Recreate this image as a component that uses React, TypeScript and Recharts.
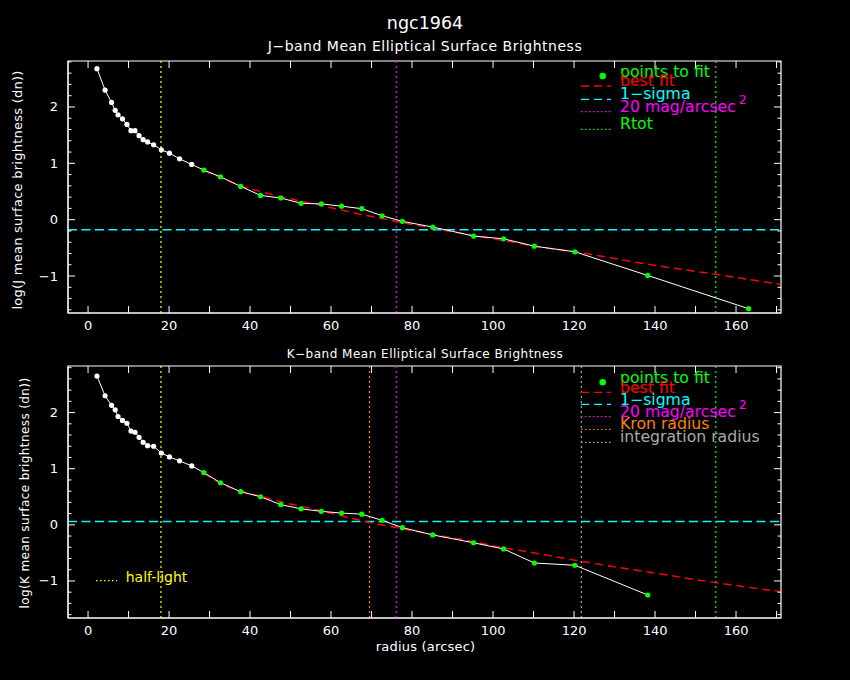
import { ComposedChart, Line, XAxis, YAxis, ReferenceLine, ReferenceArea } from "recharts";

// radial bins (arcsec)
const radius = [
  2.2, 4.2, 5.8, 6.7, 7.4, 8.5, 9.6, 10.6, 11.6, 12.6, 13.6, 14.7, 16.2, 18.1, 20.1, 22.6, 25.6,
  28.6, 32.7, 37.7, 42.6, 47.6, 52.6, 57.6, 62.6, 67.6, 72.6, 77.6, 85.1, 95.2, 102.6, 110.2, 120.2,
  138.2, 163.1,
];
const jBrightness = [
  2.68, 2.3, 2.08, 1.94, 1.86, 1.79, 1.69, 1.58, 1.58, 1.49, 1.42, 1.38, 1.33, 1.24, 1.18, 1.08, 0.98,
  0.88, 0.76, 0.59, 0.43, 0.385, 0.29, 0.28, 0.24, 0.195, 0.07, -0.03, -0.13, -0.29, -0.34, -0.47, -0.57,
  -0.99, -1.58,
];
const kBrightness = [
  2.65, 2.3, 2.13, 2.05, 1.93, 1.86, 1.81, 1.67, 1.65, 1.56, 1.47, 1.41, 1.4, 1.28, 1.21, 1.14, 1.05,
  0.93, 0.75, 0.59, 0.5, 0.36, 0.285, 0.24, 0.21, 0.19, 0.08, -0.05, -0.18, -0.32, -0.43, -0.68, -0.72,
  -1.25,
];

// best fit curves
const fitRadius = [
  28.6, 32.7, 37.7, 42.6, 47.6, 52.6, 57.6, 62.6, 67.6, 72.6, 77.6, 85.1, 95.2, 102.6, 110.2, 120.2,
  138.2, 155, 171,
];
const jFit = [
  0.87, 0.75, 0.6, 0.5, 0.41, 0.33, 0.25, 0.17, 0.09, 0.02, -0.05, -0.15, -0.28, -0.37, -0.47, -0.57,
  -0.79, -0.97, -1.15,
];
const kFit = [
  0.92, 0.74, 0.6, 0.51, 0.41, 0.33, 0.25, 0.16, 0.07, 0.0, -0.07, -0.17, -0.3, -0.41, -0.5, -0.63,
  -0.84, -1.03, -1.19,
];

const FIT_MIN_R = 28;

// marker lines
const HALF_LIGHT = 18.0;
const MAG20 = 76.1;
const RTOT = 155.0;
const KRON = 69.5;
const INTEGRATION = 121.8;
const J_SIGMA = -0.18;
const K_SIGMA = 0.06;

const xTicks = [0, 10, 20, 30, 40, 50, 60, 70, 80, 90, 100, 110, 120, 130, 140, 150, 160, 170];
const yTicks = [
  -1.6, -1.4, -1.2, -1, -0.8, -0.6, -0.4, -0.2, 0, 0.2, 0.4, 0.6, 0.8, 1, 1.2, 1.4, 1.6, 1.8, 2, 2.2,
  2.4, 2.6, 2.8,
];
const X_DOMAIN: [number, number] = [-4.95, 171.1];
const J_DOMAIN: [number, number] = [-1.656, 2.816];
const K_DOMAIN: [number, number] = [-1.66, 2.83];

const WHITE = "#ffffff";
const GREEN = "#00ff00";
const RED = "#ff0000";
const CYAN = "#00ffff";
const MAGENTA = "#ff00ff";
const YELLOW = "#ffff00";
const ORANGE = "#ff8000";
const GRAY = "#aaaaaa";
const FONT = "'DejaVu Sans', sans-serif";

const W = 850;
const H = 340;
const TOP = 61;
const LEFT = 68;
const RIGHT = 781;

const rows = (xs: number[], ys: number[]) => ys.map((v, i) => ({ r: xs[i], v }));

function XTick(props: any) {
  const { x, y, payload } = props;
  const v = payload.value;
  return (
    <g>
      <line x1={x} x2={x} y1={y} y2={y - 7} stroke={WHITE} />
      <line x1={x} x2={x} y1={TOP} y2={TOP + 7} stroke={WHITE} />
      {v % 20 === 0 && (
        <text x={x} y={y + 17} fill={WHITE} fontSize={13} fontFamily={FONT} textAnchor="middle">
          {v}
        </text>
      )}
    </g>
  );
}

function YTick(props: any) {
  const { x, y, payload } = props;
  const v = payload.value;
  const major = Math.abs(v - Math.round(v)) < 1e-6;
  const len = major ? 7 : 3.5;
  return (
    <g>
      <line x1={x} x2={x + len} y1={y} y2={y} stroke={WHITE} />
      <line x1={RIGHT - len} x2={RIGHT} y1={y} y2={y} stroke={WHITE} />
      {major && (
        <text x={x - 10} y={y + 4.5} fill={WHITE} fontSize={13} fontFamily={FONT} textAnchor="end">
          {String(Math.round(v)).replace("-", "\u2212")}
        </text>
      )}
    </g>
  );
}

function renderDot(props: any) {
  const { cx, cy, payload, index } = props;
  return (
    <circle
      key={`d${index}`}
      cx={cx}
      cy={cy}
      r={2.6}
      fill={payload.r >= FIT_MIN_R ? GREEN : WHITE}
    />
  );
}

interface PanelProps {
  values: number[];
  fit: number[];
  sigma: number;
  domain: [number, number];
  vlines: { x: number; color: string }[];
}

function Panel({ values, fit, sigma, domain, vlines }: PanelProps) {
  return (
    <ComposedChart width={W} height={H} margin={{ top: TOP, right: W - RIGHT, bottom: 0, left: 0 }}>
      <XAxis
        type="number"
        dataKey="r"
        domain={X_DOMAIN}
        ticks={xTicks}
        interval={0}
        allowDataOverflow
        height={27}
        tickSize={0}
        tickMargin={0}
        tickLine={false}
        axisLine={{ stroke: WHITE }}
        tick={(p: any) => <XTick {...p} />}
      />
      <YAxis
        type="number"
        domain={domain}
        ticks={yTicks}
        interval={0}
        allowDataOverflow
        width={LEFT}
        tickSize={0}
        tickMargin={0}
        tickLine={false}
        axisLine={{ stroke: WHITE }}
        tick={(p: any) => <YTick {...p} />}
      />
      <ReferenceArea
        x1={X_DOMAIN[0]}
        x2={X_DOMAIN[1]}
        y1={domain[0]}
        y2={domain[1]}
        fill="none"
        stroke={WHITE}
        strokeWidth={1.2}
      />
      {vlines.map((l, i) => (
        <ReferenceLine key={i} x={l.x} stroke={l.color} strokeDasharray="2 3" strokeWidth={1.2} />
      ))}
      <ReferenceLine y={sigma} stroke={CYAN} strokeDasharray="9 4.5" strokeWidth={1.5} />
      <Line
        data={rows(fitRadius, fit)}
        dataKey="v"
        type="monotone"
        stroke={RED}
        strokeWidth={1.5}
        strokeDasharray="8 5"
        dot={false}
        isAnimationActive={false}
      />
      <Line
        data={rows(radius, values)}
        dataKey="v"
        type="linear"
        stroke={WHITE}
        strokeWidth={1}
        dot={renderDot}
        isAnimationActive={false}
      />
    </ComposedChart>
  );
}

function LegendRow({ y, base, label, color, dash, sup }: { y: number; base: number; label: string; color: string; dash: string; sup?: string }) {
  return (
    <g>
      <line x1={581} x2={611} y1={y} y2={y} stroke={color} strokeWidth={1.3} strokeDasharray={dash} />
      <text x={620} y={base} fill={color} fontSize={15.7} fontFamily={FONT}>
        {label}
        {sup && (
          <tspan dx={3} dy={-8} fontSize={12}>
            {sup}
          </tspan>
        )}
      </text>
    </g>
  );
}

export default function App() {
  const txt = { fill: WHITE, fontFamily: FONT };
  return (
    <div style={{ position: "absolute", left: 0, top: 0, width: W, height: 680, background: "#000", overflow: "hidden" }}>
      <div style={{ position: "absolute", left: 0, top: 0 }}>
        <Panel
          values={jBrightness}
          fit={jFit}
          sigma={J_SIGMA}
          domain={J_DOMAIN}
          vlines={[
            { x: HALF_LIGHT, color: YELLOW },
            { x: MAG20, color: MAGENTA },
            { x: RTOT, color: GREEN },
          ]}
        />
      </div>
      <div style={{ position: "absolute", left: 0, top: 305 }}>
        <Panel
          values={kBrightness}
          fit={kFit}
          sigma={K_SIGMA}
          domain={K_DOMAIN}
          vlines={[
            { x: HALF_LIGHT, color: YELLOW },
            { x: KRON, color: ORANGE },
            { x: MAG20, color: MAGENTA },
            { x: INTEGRATION, color: GRAY },
            { x: RTOT, color: GREEN },
          ]}
        />
      </div>
      <svg width={W} height={680} style={{ position: "absolute", left: 0, top: 0, pointerEvents: "none" }}>
        <text x={425} y={29} fontSize={17.5} textAnchor="middle" {...txt}>ngc1964</text>
        <text x={425} y={51} fontSize={14} letterSpacing={0.5} textAnchor="middle" {...txt}>
          J−band Mean Elliptical Surface Brightness
        </text>
        <text x={425} y={357.5} fontSize={12} letterSpacing={0.5} textAnchor="middle" {...txt}>
          K−band Mean Elliptical Surface Brightness
        </text>
        <text x={425.5} y={651} fontSize={13} letterSpacing={0.2} textAnchor="middle" {...txt}>radius (arcsec)</text>
        <text transform="translate(22,190) rotate(-90)" fontSize={13} letterSpacing={0.25} textAnchor="middle" {...txt}>
          log(J mean surface brightness (dn))
        </text>
        <text transform="translate(28.5,493) rotate(-90)" fontSize={12} letterSpacing={0.4} textAnchor="middle" {...txt}>
          log(K mean surface brightness (dn))
        </text>

        {/* J legend */}
        <circle cx={602.7} cy={76} r={3.3} fill={GREEN} />
        <text x={620} y={76.7} fill={GREEN} fontSize={15.7} fontFamily={FONT}>points to fit</text>
        <LegendRow y={86} base={86} label="best fit" color={RED} dash="8 5" />
        <LegendRow y={99.3} base={99.3} label="1−sigma" color={CYAN} dash="8 5" />
        <LegendRow y={111.7} base={111.7} label="20 mag/arcsec" color={MAGENTA} dash="1.5 2.5" sup="2" />
        <LegendRow y={129.3} base={129.3} label="Rtot" color={GREEN} dash="1.5 2.5" />

        {/* K legend */}
        <circle cx={602.7} cy={382.3} r={3.3} fill={GREEN} />
        <text x={620} y={382.7} fill={GREEN} fontSize={15.7} fontFamily={FONT}>points to fit</text>
        <LegendRow y={392.3} base={392.7} label="best fit" color={RED} dash="8 5" />
        <LegendRow y={404.3} base={405} label="1−sigma" color={CYAN} dash="8 5" />
        <LegendRow y={416.7} base={417.3} label="20 mag/arcsec" color={MAGENTA} dash="1.5 2.5" sup="2" />
        <LegendRow y={429.3} base={429.3} label="Kron radius" color={ORANGE} dash="1.5 2.5" />
        <LegendRow y={442.3} base={442.3} label="integration radius" color={GRAY} dash="1.5 2.5" />

        <line x1={96} x2={117} y1={580.7} y2={580.7} stroke={YELLOW} strokeWidth={1.3} strokeDasharray="1.5 2.5" />
        <text x={125.7} y={581.7} fill={YELLOW} fontSize={14} fontFamily={FONT}>half-light</text>
      </svg>
    </div>
  );
}
